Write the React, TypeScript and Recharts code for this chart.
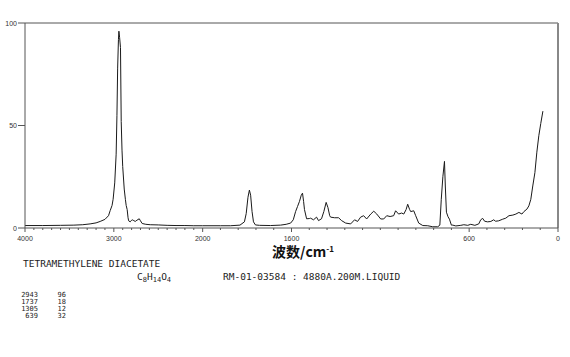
import React from 'react';
import { LineChart, Line, XAxis, YAxis, ReferenceLine } from 'recharts';

// Raman spectrum: wavenumber (cm-1) and relative intensity
const wavenumbers = [
  4000, 3800, 3600, 3450, 3350, 3267, 3200, 3154, 3100, 3060, 3041, 3020, 3008, 2990, 2974, 2965,
  2957, 2948, 2943, 2935, 2925, 2917, 2908, 2900, 2883, 2870, 2861, 2850, 2840, 2833, 2816, 2800,
  2793, 2775, 2759, 2740, 2714, 2700, 2681, 2640, 2590, 2500, 2400, 2300, 2200, 2100, 2000,
  1900, 1844, 1790, 1765, 1755, 1745, 1737, 1730, 1722, 1714, 1703, 1680, 1618, 1562, 1530, 1505,
  1490, 1477, 1466, 1455, 1445, 1438, 1432, 1427, 1415, 1400, 1393, 1376, 1359, 1348, 1331, 1318,
  1305, 1295, 1285, 1280, 1257, 1235, 1218, 1195, 1167, 1145, 1128, 1111, 1094, 1077, 1054, 1037,
  1020, 998, 981, 964, 945, 925, 914, 897, 880, 868, 855, 846, 835, 829, 812, 801, 784, 761, 733,
  705, 677, 665, 657, 648, 639, 634, 628, 619, 611, 600, 592, 575, 547, 530, 508, 491, 468, 446,
  435, 424, 413, 396, 378, 362, 351, 334, 311, 294, 276, 254, 237, 220, 203, 192, 175, 164, 153,
  142, 130, 119, 108, 97, 85,
];
const intensities = [
  1.2, 1.2, 1.3, 1.4, 1.6, 2.0, 2.5, 3.2, 4.2, 6, 8.5, 11, 14, 22, 36, 55,
  78, 92, 96, 93, 88, 52, 38, 30, 19, 14, 11, 9, 5, 3.5, 3, 3.8,
  4, 3.6, 3.2, 3.8, 4.5, 3.5, 2.2, 1.8, 1.6, 1.5, 1.3, 1.2, 1.2, 1.1, 1.1,
  1.1, 1.1, 1.4, 3, 7, 15, 18.5, 16, 8, 3, 1.5, 1.3, 1.2, 1.4, 1.8, 2.4,
  4, 8, 10.5, 13, 16, 17, 13, 9, 4.5, 4.6, 4.8, 4, 5.3, 3.6, 4.5, 8,
  12.5, 10, 6, 5.3, 5, 5, 3.6, 2.4, 2, 4, 3.2, 5.3, 6, 4.4, 6.8, 8.2,
  6.8, 4.4, 4.4, 6, 5.6, 6, 8.4, 6.8, 7.3, 6.8, 9, 11.6, 9, 8, 8.4, 6, 2.4, 1.2, 1.1,
  0.6, 0.6, 1.4, 14, 25, 32.5, 20, 7.7, 5.5, 4.3, 1.4, 1.4, 1, 1.3, 1.6, 1.3, 1.8, 1.3, 2,
  4, 4.7, 3.3, 3, 3.2, 4, 3.3, 3.5, 4.3, 4.8, 6, 6.3, 6.8, 7.6, 6.8, 8, 9.2, 10.8, 14,
  20.5, 27, 37, 45, 51, 57,
];

const majorTicks = [4000, 3000, 2000, 1500, 500, 0];
const majorTickLabels = ['4000', '3000', '2000', '1600', '600', '0'];
const minorTicks = [
  4000, 3900, 3800, 3700, 3600, 3500, 3400, 3300, 3200, 3100, 3000, 2900, 2800, 2700, 2600, 2500,
  2400, 2300, 2200, 2100, 2000, 1900, 1800, 1700, 1600, 1500, 1400, 1300, 1200, 1100, 1000, 900,
  800, 700, 600, 500, 400, 300, 200, 100, 0,
];
const yTicks = [0, 50, 100];
const yTickLabels = ['0', '50', '100'];

const peakWavenumbers = ['2943', '1737', '1305', '639'];
const peakIntensities = ['96', '18', '12', '32'];

// the axis is compressed 2x above 2000 cm-1
const toPos = (wn: number) => (wn >= 2000 ? (4000 - wn) / 2 : 1000 + (2000 - wn));

const data = wavenumbers.map((w, i) => ({ pos: toPos(w), v: intensities[i] }));
const majorPos = majorTicks.map(toPos);

const AXIS = '#555';
const MONO = '"DejaVu Sans Mono", "Liberation Mono", monospace';

const XTick = (props: any) => {
  const { x, y, payload } = props;
  const idx = majorPos.indexOf(payload.value);
  const major = idx >= 0;
  return (
    <g>
      <line x1={x} x2={x} y1={y} y2={y + (major ? 4 : 2)} stroke={AXIS} strokeWidth={1} />
      {major && (
        <text x={x} y={y + 13} textAnchor="middle" fontSize={7} fontFamily="Liberation Sans" fill="#333">
          {majorTickLabels[idx]}
        </text>
      )}
    </g>
  );
};

const YTick = (props: any) => {
  const { x, y, payload } = props;
  const idx = yTicks.indexOf(payload.value);
  return (
    <g>
      <line x1={x - 7} x2={x} y1={y} y2={y} stroke={AXIS} strokeWidth={1} />
      <text x={x - 8} y={y + 2.5} textAnchor="end" fontSize={7} fontFamily="Liberation Sans" fill="#333">
        {yTickLabels[idx]}
      </text>
    </g>
  );
};

export default function App() {
  return (
    <div style={{ position: 'absolute', left: 0, top: 0, width: 570, height: 357, background: '#fff' }}>
      <LineChart
        width={570}
        height={357}
        data={data}
        margin={{ top: 23, right: 12, left: 0, bottom: 99 }}
      >
        <XAxis
          dataKey="pos"
          type="number"
          domain={[0, 3000]}
          ticks={minorTicks.map(toPos)}
          interval={0}
          tick={<XTick />}
          tickLine={false}
          tickSize={0}
          tickMargin={0}
          height={30}
          axisLine={{ stroke: AXIS }}
          allowDataOverflow
        />
        <YAxis
          type="number"
          domain={[0, 100]}
          ticks={yTicks}
          interval={0}
          tick={<YTick />}
          tickLine={false}
          tickSize={0}
          tickMargin={0}
          width={25}
          axisLine={{ stroke: AXIS }}
          allowDataOverflow
        />
        <ReferenceLine y={100} stroke={AXIS} strokeWidth={1} />
        <ReferenceLine x={3000} stroke="#888" strokeWidth={2} />
        <Line
          type="linear"
          dataKey="v"
          stroke="#1a1a1a"
          strokeWidth={1}
          dot={false}
          isAnimationActive={false}
        />
      </LineChart>
      <svg
        width={570}
        height={357}
        style={{ position: 'absolute', left: 0, top: 0, pointerEvents: 'none' }}
      >
        <text x={303} y={257} textAnchor="middle" fontFamily='"Noto Sans CJK SC"' fontWeight="bold" fontSize={14} fill="#111">
          波数/cm<tspan fontSize={8} dy={-5}>-1</tspan>
        </text>
        <text x={23} y={267} fontFamily={MONO} fontSize={9.5} fill="#222">TETRAMETHYLENE DIACETATE</text>
        <text x={137} y={280} fontFamily={MONO} fontSize={9.5} fill="#222">
          C<tspan fontSize={7} dy={2}>8</tspan>
          <tspan dy={-2}>H</tspan>
          <tspan fontSize={7} dy={2}>14</tspan>
          <tspan dy={-2}>O</tspan>
          <tspan fontSize={7} dy={2}>4</tspan>
        </text>
        <text x={223} y={280} fontFamily={MONO} fontSize={9.5} fill="#222">RM-01-03584 : 4880A.200M.LIQUID</text>
        {peakWavenumbers.map((w, i) => (
          <g key={w}>
            <text x={38} y={297 + i * 7} textAnchor="end" fontFamily={MONO} fontSize={7} fill="#222">{w}</text>
            <text x={66} y={297 + i * 7} textAnchor="end" fontFamily={MONO} fontSize={7} fill="#222">{peakIntensities[i]}</text>
          </g>
        ))}
      </svg>
    </div>
  );
}
